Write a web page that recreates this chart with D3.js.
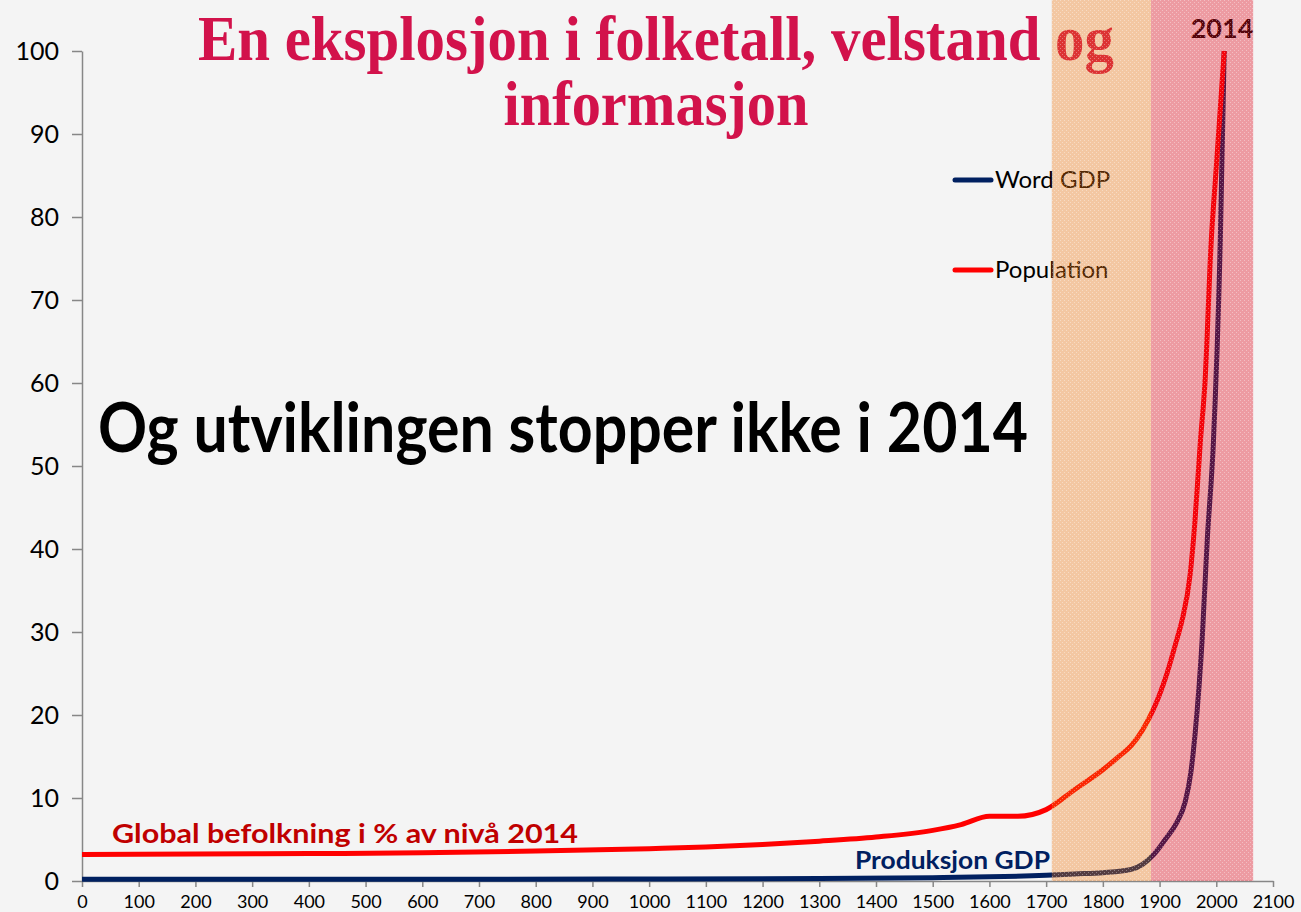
<!DOCTYPE html>
<html>
<head>
<meta charset="utf-8">
<script src="https://cdn.jsdelivr.net/npm/d3@7"></script>
<style>
  html, body { margin: 0; padding: 0; background: #f4f4f4; }
  svg { display: block; }
</style>
</head>
<body>
<div id="chart"></div>
<script>
// series data
const popYears  = [0, 200, 400, 600, 800, 1000, 1100, 1200, 1300, 1400, 1500, 1550, 1600, 1650, 1700, 1750, 1800, 1830, 1850, 1870, 1890, 1913, 1930, 1940, 1954, 1962, 1972, 1980, 1991, 2000, 2014];
const popValues = [3.2, 3.25, 3.3, 3.4, 3.6, 3.9, 4.1, 4.4, 4.8, 5.3, 6.1, 6.8, 7.8, 7.8, 8.6, 11, 13.4, 15.1, 16.3, 18.2, 20.8, 25, 29, 31.5, 37, 43, 53, 60, 77, 86, 100];

const gdpYears  = [0, 500, 1000, 1300, 1500, 1600, 1700, 1750, 1800, 1850, 1870, 1890, 1910, 1930, 1945, 1955, 1963, 1975, 1984, 1995, 2007, 2014];
const gdpValues = [0.2, 0.2, 0.25, 0.3, 0.4, 0.5, 0.7, 0.85, 1.0, 1.4, 2.0, 3.2, 5.0, 7.0, 9.5, 13, 18, 29, 41, 53, 77, 100];

// shaded periods
const bandNames = ['industrial', 'modern'];
const bandFrom  = [1710, 1885];
const bandTo    = [1885, 2065];
const bandColor = ['#f1730a', '#e30a1c'];
const bandAlpha = [0.35, 0.38];

const xTicks = d3.range(0, 2101, 100);
const yTicks = d3.range(0, 101, 10);

const legendLabels = ['Word GDP', 'Population'];
const seriesColors = ['#002060', '#ff0000'];

const titleLines = ['En eksplosjon i folketall, velstand og', 'informasjon'];
const bigText = 'Og utviklingen stopper ikke i 2014';
const popLabel = 'Global befolkning i % av nivå 2014';
const gdpLabel = 'Produksjon GDP';
const yearMark = '2014';

const width = 1301, height = 912;

const x = d3.scaleLinear().domain([0, 2100]).range([82, 1273]);
const y = d3.scaleLinear().domain([0, 100]).range([881, 51]);

const svg = d3.select('#chart').append('svg')
    .attr('width', width)
    .attr('height', height);

svg.append('rect')
    .attr('width', width).attr('height', height)
    .attr('fill', '#f4f4f4');

// dotted texture for the bands
const defs = svg.append('defs');
const pat = defs.append('pattern')
    .attr('id', 'dots')
    .attr('width', 4).attr('height', 4)
    .attr('patternUnits', 'userSpaceOnUse');
pat.append('rect').attr('x', 0).attr('y', 0).attr('width', 1).attr('height', 1).attr('fill', '#fff');
pat.append('rect').attr('x', 2).attr('y', 2).attr('width', 1).attr('height', 1).attr('fill', '#fff');

// squeeze a text element to a measured width
function fit(sel, w) {
  sel.attr('textLength', w).attr('lengthAdjust', 'spacingAndGlyphs');
}

// axes
const axisFont = 'Lato, "Open Sans", sans-serif';

const yAxis = svg.append('g')
    .attr('transform', `translate(${x(0)},0)`)
    .call(d3.axisLeft(y).tickValues(yTicks).tickSize(10).tickPadding(13).tickSizeOuter(0));
yAxis.selectAll('text')
    .attr('font-family', axisFont)
    .attr('font-size', 25)
    .attr('fill', '#000');

const xAxis = svg.append('g')
    .attr('transform', `translate(0,${y(0)})`)
    .call(d3.axisBottom(x).tickValues(xTicks).tickFormat(d3.format('d'))
      .tickSize(6).tickPadding(8).tickSizeOuter(0));
xAxis.selectAll('text')
    .attr('font-family', axisFont)
    .attr('font-size', 18)
    .attr('fill', '#000');

svg.selectAll('.domain, .tick line')
    .attr('stroke', '#878787')
    .attr('stroke-width', 1.5);

// lines
const line = d3.line()
    .x(d => x(d[0]))
    .y(d => y(d[1]))
    .curve(d3.curveMonotoneX);

const series = [
  { key: 'gdp', pts: d3.zip(gdpYears, gdpValues), color: seriesColors[0] },
  { key: 'pop', pts: d3.zip(popYears, popValues), color: seriesColors[1] }
];

svg.selectAll('.series')
  .data(series)
  .join('path')
    .attr('class', 'series')
    .attr('d', d => line(d.pts))
    .attr('fill', 'none')
    .attr('stroke', d => d.color)
    .attr('stroke-width', 5)
    .attr('stroke-linejoin', 'round');

// title
const title = svg.append('g')
    .attr('font-family', '"Liberation Serif", "Times New Roman", serif')
    .attr('font-weight', 'bold')
    .attr('font-size', 64)
    .attr('fill', '#d2124b')
    .attr('text-anchor', 'middle');
title.append('text').attr('x', 656).attr('y', 60).text(titleLines[0]).call(fit, 916);
title.append('text').attr('x', 656).attr('y', 125).text(titleLines[1]).call(fit, 305);

svg.append('text')
    .attr('x', 98).attr('y', 452)
    .attr('font-family', 'Lato, sans-serif')
    .attr('font-weight', 'bold')
    .attr('font-size', 68)
    .attr('fill', '#000')
    .text(bigText)
    .call(fit, 930);

svg.append('text')
    .attr('x', 112).attr('y', 843)
    .attr('font-family', 'Lato, sans-serif')
    .attr('font-weight', 'bold')
    .attr('font-size', 26)
    .attr('fill', '#c00000')
    .text(popLabel)
    .call(fit, 466);

svg.append('text')
    .attr('x', 855).attr('y', 869)
    .attr('font-family', 'Lato, sans-serif')
    .attr('font-weight', 'bold')
    .attr('font-size', 24)
    .attr('fill', '#002060')
    .text(gdpLabel)
    .call(fit, 195);

// legend
const legend = svg.append('g').attr('transform', 'translate(955,180)');
legendLabels.forEach((lab, i) => {
  const row = legend.append('g').attr('transform', `translate(0,${i * 90})`);
  row.append('line')
      .attr('x1', 0).attr('x2', 36)
      .attr('stroke', seriesColors[i])
      .attr('stroke-width', 5)
      .attr('stroke-linecap', 'round');
  row.append('text')
      .attr('x', 40).attr('y', 8)
      .attr('font-family', 'Lato, sans-serif')
      .attr('font-size', 24)
      .attr('fill', '#000')
      .text(lab);
});

svg.append('text')
    .attr('x', 1222).attr('y', 38)
    .attr('text-anchor', 'middle')
    .attr('font-family', 'Lato, sans-serif')
    .attr('font-weight', 'bold')
    .attr('font-size', 27)
    .attr('fill', '#000')
    .text(yearMark);

// shaded periods, drawn over everything
const bands = svg.append('g');
bandNames.forEach((name, i) => {
  bands.append('rect')
      .attr('class', 'band ' + name)
      .attr('x', x(bandFrom[i]))
      .attr('y', 0)
      .attr('width', x(bandTo[i]) - x(bandFrom[i]))
      .attr('height', y(0))
      .attr('fill', bandColor[i])
      .attr('fill-opacity', bandAlpha[i]);
  bands.append('rect')
      .attr('x', x(bandFrom[i]))
      .attr('y', 0)
      .attr('width', x(bandTo[i]) - x(bandFrom[i]))
      .attr('height', y(0))
      .attr('fill', 'url(#dots)')
      .attr('opacity', 0.35);
});
</script>
</body>
</html>
